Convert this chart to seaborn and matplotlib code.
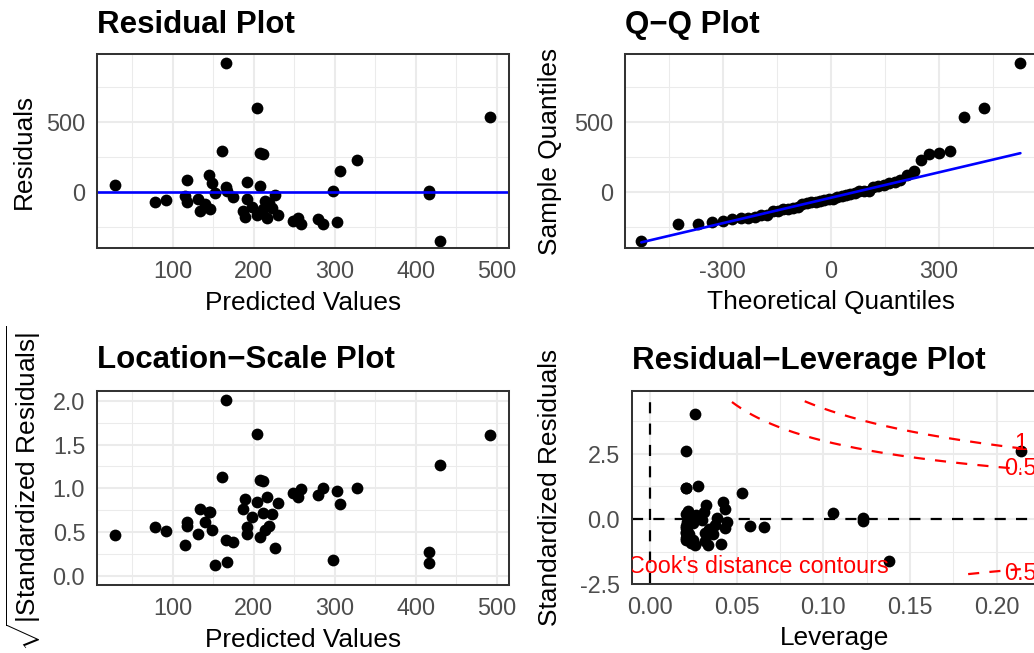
import numpy as np
import pandas as pd
import matplotlib
matplotlib.use("Agg")
import matplotlib.pyplot as plt
from matplotlib.ticker import MultipleLocator, AutoMinorLocator, FormatStrFormatter
import seaborn as sns
from statistics import NormalDist

# ---- data (fitted values and residuals) ----
predicted = [28, 78, 91, 115, 117, 117, 131, 133, 140, 144, 146, 148, 152, 161, 165, 166,
             167, 174, 187, 189, 191, 192, 198, 204, 204, 207, 207, 211, 211, 214, 216, 219,
             223, 226, 230, 248, 254, 258, 279, 285, 298, 303, 306, 327, 416, 416, 430, 492]
residuals = [48, -69, -59, -29, 85, -73, -51, -133, -86, 121, -121, 63, -4, 289, 38, 914,
             6, -34, -134, -174, 71, -53, -103, 599, -162, 276, 45, 268, -120, -62, -185, -76,
             -114, -24, -160, -205, -185, -226, -193, -229, 8, -213, 151, 225, 5, -17, -345, 531]
cook_levels = [0.5, 1.0]

# ---- derived regression diagnostics ----
yhat = np.array(predicted, float)
e = np.array(residuals, float)
n = len(e)
p = 2
lev = 1.0 / n + (yhat - yhat.mean()) ** 2 / np.sum((yhat - yhat.mean()) ** 2)
sigma = np.sqrt(np.sum(e ** 2) / (n - p))
std_res = e / (sigma * np.sqrt(1 - lev))
sqrt_abs = np.sqrt(np.abs(std_res))

sd = np.std(e, ddof=1)
nd = NormalDist()
sample_q = np.sort(e)
theo_q = np.array([nd.inv_cdf((i + 0.5) / n) for i in range(n)]) * sd
q1s, q3s = np.quantile(e, [0.25, 0.75])
q1t, q3t = nd.inv_cdf(0.25) * sd, nd.inv_cdf(0.75) * sd
slope = (q3s - q1s) / (q3t - q1t)
intercept = q1s - slope * q1t

df = pd.DataFrame({"pred": yhat, "res": e, "lev": lev, "std": std_res, "sq": sqrt_abs})
qq = pd.DataFrame({"theo": theo_q, "sample": sample_q})

# ---- style ----
sns.set_style("white")
plt.rcParams['font.family'] = ['Liberation Sans', 'DejaVu Sans']
plt.rcParams['mathtext.fontset'] = 'custom'
plt.rcParams['mathtext.rm'] = 'Liberation Sans'
plt.rcParams['mathtext.it'] = 'Liberation Sans:italic'
plt.rcParams['axes.unicode_minus'] = True

W, H = 1034, 653
fig = plt.figure(figsize=(W / 100, H / 100), dpi=100)
fig.patch.set_facecolor("white")

TICK_FS = 16.8
LAB_FS = 18.9
TITLE_FS = 22.5
GRID = "#EBEBEB"
DARK = "#333333"


def add_ax(l, r, t, b):
    return fig.add_axes([l / W, 1 - b / H, (r - l) / W, (b - t) / H])


def style(ax, xmaj, ymaj, xfmt, yfmt):
    ax.set_facecolor("white")
    ax.xaxis.set_major_locator(MultipleLocator(xmaj))
    ax.yaxis.set_major_locator(MultipleLocator(ymaj))
    ax.xaxis.set_minor_locator(AutoMinorLocator(2))
    ax.yaxis.set_minor_locator(AutoMinorLocator(2))
    ax.xaxis.set_major_formatter(FormatStrFormatter(xfmt))
    ax.yaxis.set_major_formatter(FormatStrFormatter(yfmt))
    ax.grid(True, which="major", color=GRID, lw=1.45, zorder=0)
    ax.grid(True, which="minor", color=GRID, lw=0.75, zorder=0)
    ax.set_axisbelow(True)
    for sp in ax.spines.values():
        sp.set_color(DARK)
        sp.set_linewidth(1.45)
        sp.set_zorder(5)
    ax.tick_params(which="major", length=4.8, width=1.45, color=DARK,
                   labelsize=TICK_FS, labelcolor="#4D4D4D", pad=3.5)
    ax.tick_params(which="minor", length=0)
    ax.set_xlabel("")
    ax.set_ylabel("")


def ftext(x, y, s, **kw):
    fig.text(x / W, 1 - y / H, s, **kw)


PT = dict(color="black", s=72, linewidth=0, zorder=3, legend=False)

# ---- Residual plot ----
ax1 = add_ax(96.7, 509, 54.3, 248.3)
sns.scatterplot(data=df, x="pred", y="res", ax=ax1, **PT)
ax1.axhline(0, color="#0000FF", lw=1.9, zorder=4)
ax1.set_xlim(5.8, 515.2)
ax1.set_ylim(-400, 979)
style(ax1, 100, 500, "%d", "%d")

# ---- Q-Q plot ----
ax2 = add_ax(624.7, 1037, 54.3, 248.3)
sns.scatterplot(data=qq, x="theo", y="sample", ax=ax2, **PT)
xl = np.array([theo_q.min(), theo_q.max()])
sns.lineplot(x=xl, y=intercept + slope * xl, ax=ax2, color="#0000FF", lw=1.9, zorder=4)
ax2.set_xlim(-573, 573)
ax2.set_ylim(-400, 979)
style(ax2, 300, 500, "%d", "%d")

# ---- Location-Scale plot ----
ax3 = add_ax(96.7, 509, 391, 585)
sns.scatterplot(data=df, x="pred", y="sq", ax=ax3, **PT)
ax3.set_xlim(5.8, 515.2)
ax3.set_ylim(-0.1005, 2.11)
style(ax3, 100, 0.5, "%d", "%.1f")

# ---- Residual-Leverage plot ----
ax4 = add_ax(631.7, 1037, 391, 584.3)
sns.scatterplot(data=df, x="lev", y="std", ax=ax4, **PT)
dash = (0, (5.0, 4.6))
ax4.axhline(0, color="black", lw=1.6, ls=dash, zorder=4)
ax4.axvline(0, color="black", lw=1.6, ls=dash, zorder=4)
lo, hi = std_res.min() - 0.5, std_res.max() + 0.5
hh = np.linspace(lev.min(), lev.max(), 300)
hmax = lev.max()
for D in cook_levels:
    for sign in (1, -1):
        rr = sign * np.sqrt(D * p * (1 - hh) / hh)
        rr = np.where((rr >= lo) & (rr <= hi), rr, np.nan)
        ax4.plot(hh, rr, color="#FF0000", lw=1.6, ls=dash, zorder=4)
        rend = sign * np.sqrt(D * p * (1 - hmax) / hmax)
        if lo <= rend <= hi:
            off = {(1.0, 1): 0.19, (0.5, 1): 0.03, (0.5, -1): -0.15}.get((D, sign), 0)
            ax4.text(hmax, rend + off, f"{D:g}", color="#FF0000", fontsize=TICK_FS,
                     ha="center", va="center", zorder=6, clip_on=True)
ax4.text(-0.0125, -1.82, "Cook's distance contours", color="#FF0000", fontsize=TICK_FS,
         ha="left", va="center", zorder=6, clip_on=True)
ax4.set_xlim(-0.0105, 0.2232)
ax4.set_ylim(-2.5, 4.91)
style(ax4, 0.05, 2.5, "%.2f", "%.1f")

# ---- titles ----
TT = dict(fontsize=TITLE_FS, fontweight="bold", ha="left", va="baseline", color="black")
ftext(96.7, 33.4, "Residual Plot", **TT)
ftext(624.7, 33.4, "Q\u2212Q Plot", **TT)
ftext(96.7, 368.5, "Location\u2212Scale Plot", **TT)
ftext(631.7, 368.5, "Residual\u2212Leverage Plot", **TT)

# ---- axis titles ----
XL = dict(fontsize=LAB_FS, ha="center", va="baseline", color="black")
YL = dict(fontsize=LAB_FS, ha="center", va="baseline", color="black",
          rotation=90, rotation_mode="anchor")
ftext(302.8, 309.5, "Predicted Values", **XL)
ftext(830.9, 309.5, "Theoretical Quantiles", **XL)
ftext(302.8, 647, "Predicted Values", **XL)
ftext(834.4, 645.5, "Leverage", **XL)
ftext(30.8, 151.3, "Residuals", **YL)
ftext(557.4, 151.3, "Sample Quantiles", **YL)
ftext(557.4, 487.7, "Standardized Residuals", **YL)
ftext(35.5, 488, r"$\sqrt{|\mathrm{Standardized\ Residuals}|}$", **YL)

fig.savefig("out.png", dpi=100)
